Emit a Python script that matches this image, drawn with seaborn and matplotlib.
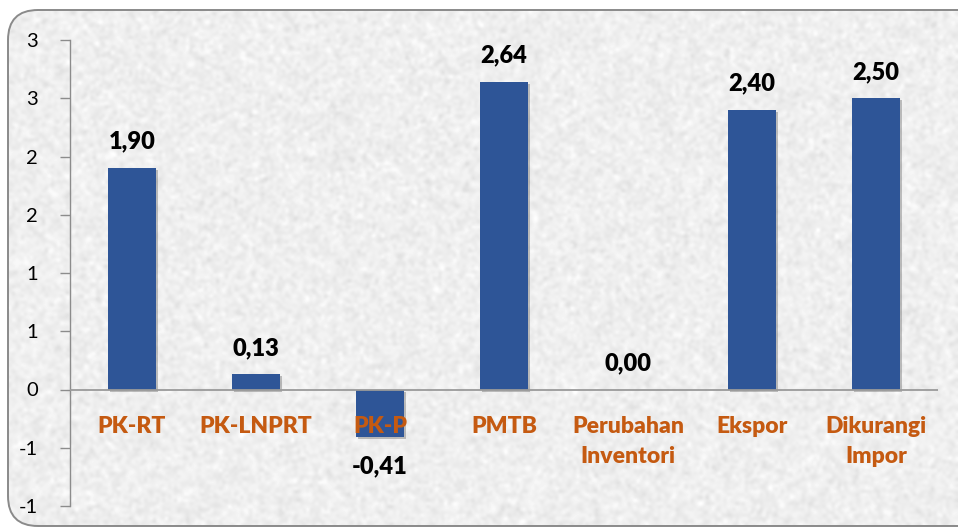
import numpy as np
import pandas as pd
import matplotlib
matplotlib.use("Agg")
import matplotlib.pyplot as plt
import matplotlib.patheffects as pe
from matplotlib.patches import FancyBboxPatch
import seaborn as sns

# Contribution to growth by expenditure component
categories = ["PK-RT", "PK-LNPRT", "PK-P", "PMTB", "Perubahan\nInventori", "Ekspor", "Dikurangi\nImpor"]
values = [1.90, 0.13, -0.41, 2.64, 0.00, 2.40, 2.50]
value_labels = ["1,90", "0,13", "-0,41", "2,64", "0,00", "2,40", "2,50"]
y_ticks = [-1.0, -0.5, 0.0, 0.5, 1.0, 1.5, 2.0, 2.5, 3.0]
y_tick_labels = ["-1", "-1", "0", "1", "1", "2", "2", "3", "3"]

BAR = "#2E5597"
ORANGE = "#C55A11"
GREY = "#8C8C8C"

sns.set_theme(style="white")
plt.rcParams["font.family"] = ["Lato", "DejaVu Sans"]

W, H = 958, 529
fig = plt.figure(figsize=(W / 100, H / 100), dpi=100)
fig.patch.set_facecolor("white")

# Textured paper panel with rounded frame
bg = fig.add_axes([0, 0, 1, 1])
bg.set_xlim(0, W)
bg.set_ylim(0, H)
bg.axis("off")
rng = np.random.default_rng(11)
grain = rng.normal(size=(H // 3, W // 3))
img = bg.imshow(grain, cmap="gray", vmin=-30, vmax=2.1, extent=(0, W, 0, H),
                interpolation="bicubic", aspect="auto", zorder=0)
frame = FancyBboxPatch((8, 3), 990, 516, boxstyle="round,pad=0,rounding_size=30",
                       facecolor="none", edgecolor="#8A8A8A", lw=1.4, zorder=2)
bg.add_patch(frame)
img.set_clip_path(frame)

ax = fig.add_axes([70 / W, (H - 506) / H, (938 - 70) / W, (506 - 40) / H])
ax.set_facecolor("none")

df = pd.DataFrame({"cat": categories, "val": values})
sns.barplot(data=df, x="cat", y="val", color=BAR, saturation=1, width=0.39,
            linewidth=0, ax=ax, zorder=3)
for bar in ax.patches:
    bar.set_path_effects([pe.SimplePatchShadow(offset=(1.5, -1.5), shadow_rgbFace="#555555", alpha=0.35),
                          pe.Normal()])

ax.set_xlim(-0.5, len(categories) - 0.5)
ax.set_ylim(-1.0, 3.0)
ax.set_yticks(y_ticks)
ax.set_yticklabels(y_tick_labels, fontsize=14.5, color="black")
ax.tick_params(axis="y", direction="out", length=7, width=1, color=GREY, pad=16, left=True)
ax.set_xticks([])
ax.set_xlabel("")
ax.set_ylabel("")
for s in ["top", "right", "bottom"]:
    ax.spines[s].set_visible(False)
ax.spines["left"].set_color(GREY)
ax.spines["left"].set_linewidth(1)
ax.axhline(0, color="#9A9A9A", lw=1.3, zorder=4)

for i, (v, lab) in enumerate(zip(values, value_labels)):
    off = -21 if v < 0 else 19
    ax.annotate(lab, (i, v), xytext=(0, off), textcoords="offset points",
                ha="center", va="center", fontsize=17, fontweight="heavy", color="black", zorder=6)

for i, cat in enumerate(categories):
    ax.annotate(cat, (i, 0), xytext=(0, -19), textcoords="offset points",
                ha="center", va="top", fontsize=16.5, fontweight="heavy", color=ORANGE,
                linespacing=1.55, zorder=6)

fig.savefig("out.png", dpi=100)
